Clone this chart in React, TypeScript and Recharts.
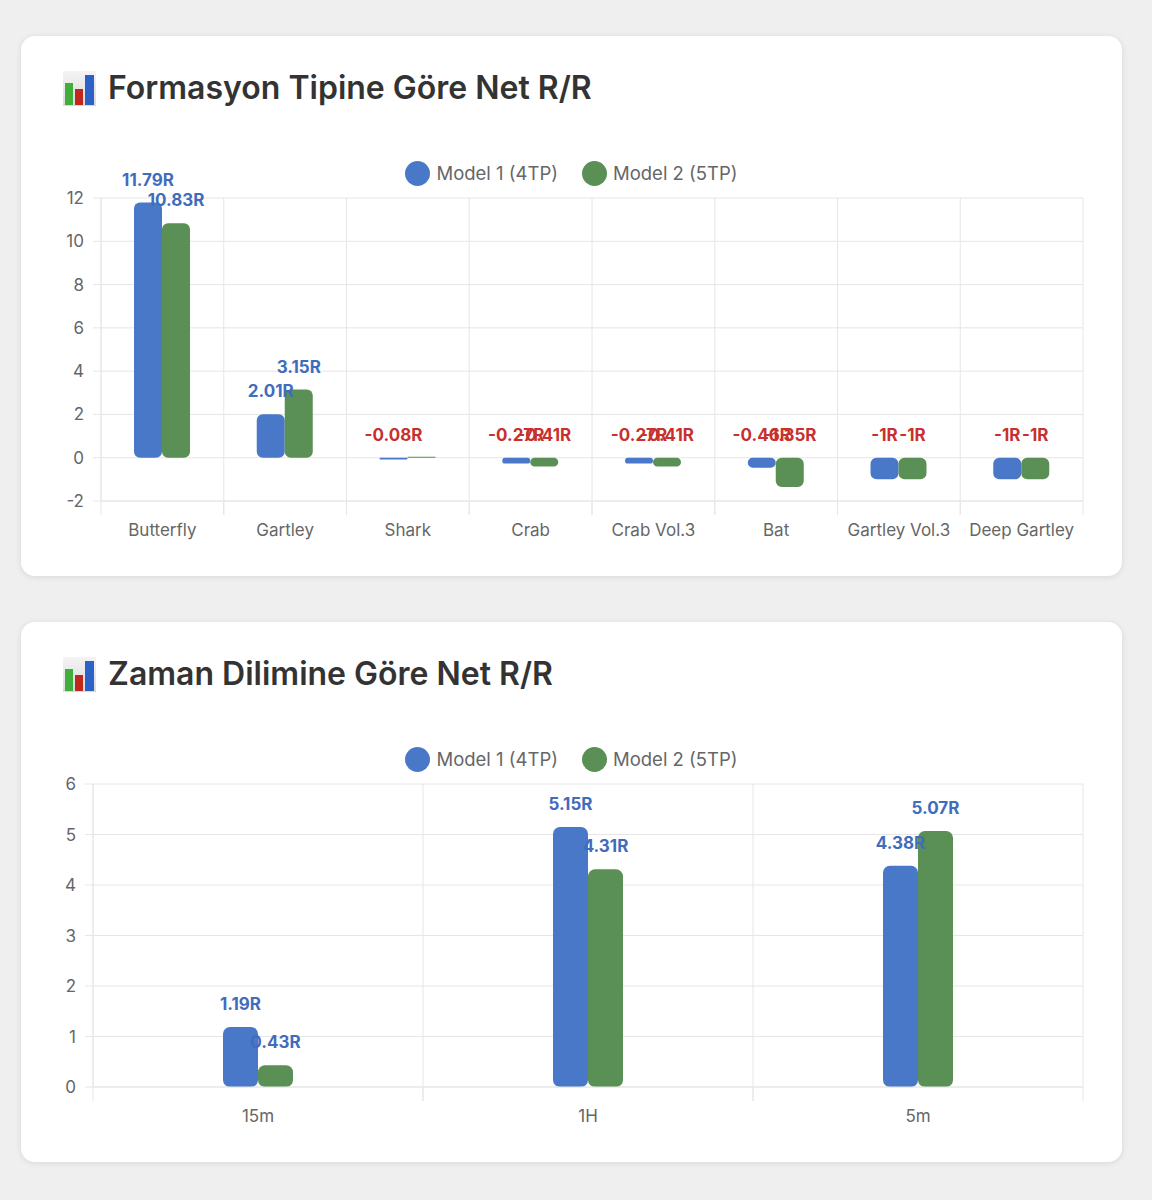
import { Bar, BarChart, CartesianGrid, LabelList, Legend, XAxis, YAxis } from "recharts";

// --- data ---
const patternNames = ["Butterfly", "Gartley", "Shark", "Crab", "Crab Vol.3", "Bat", "Gartley Vol.3", "Deep Gartley"];
const patternModel1 = [11.79, 2.01, -0.08, -0.27, -0.27, -0.46, -1, -1];
const patternModel2 = [10.83, 3.15, 0, -0.41, -0.41, -1.35, -1, -1];
const patternTicks = [-2, 0, 2, 4, 6, 8, 10, 12];

const timeframeNames = ["15m", "1H", "5m"];
const timeframeModel1 = [1.19, 5.15, 4.38];
const timeframeModel2 = [0.43, 4.31, 5.07];
const timeframeTicks = [0, 1, 2, 3, 4, 5, 6];

const seriesNames = ["Model 1 (4TP)", "Model 2 (5TP)"];

const BLUE = "#4a78c9";
const GREEN = "#5a8f55";
const LABEL_BLUE = "#3f6cbd";
const LABEL_RED = "#c8302e";
const GRID = "#e6e6e6";
const TEXT = "#666";
const FONT = "Inter, 'Noto Sans', sans-serif";

const CHART_W = 1101;
const CHART_H = 420;
const MARGIN_RIGHT = 39;

const ChartIcon = () => (
  <svg width={33} height={35} viewBox="0 0 33 35">
    <defs>
      <linearGradient id="iconBg" x1="0" y1="0" x2="0" y2="1">
        <stop offset="0" stopColor="#f4f4f4" />
        <stop offset="1" stopColor="#d9d9d9" />
      </linearGradient>
    </defs>
    <rect x={0} y={0} width={33} height={35} fill="url(#iconBg)" />
    <rect x={2} y={12} width={8} height={22} fill="#3fae3a" />
    <rect x={12} y={18} width={8} height={16} fill="#c0281e" />
    <rect x={22} y={4} width={9} height={30} fill="#2c62c8" />
  </svg>
);

const renderLabel = (props: any) => {
  const { x, y, width, height, value } = props;
  if (!value) return null;
  const top = Math.min(Number(y), Number(y) + Number(height));
  return (
    <text
      x={Number(x) + Number(width) / 2}
      y={top - 17}
      textAnchor="middle"
      fill={value < 0 ? LABEL_RED : LABEL_BLUE}
      fontSize={17}
      fontWeight={700}
      fontFamily={FONT}
    >
      {`${value}R`}
    </text>
  );
};

const LegendContent = (props: any) => (
  <div style={{ height: 40, display: "flex", justifyContent: "center", gap: 24, fontFamily: FONT }}>
    {(props.payload || []).map((item: any) => (
      <div key={item.value} style={{ display: "flex", alignItems: "center", height: 30 }}>
        <span style={{ width: 25, height: 25, borderRadius: "50%", background: item.color, display: "inline-block" }} />
        <span style={{ marginLeft: 6, fontSize: 18.5, color: TEXT }}>{item.value}</span>
      </div>
    ))}
  </div>
);

const makeXTick = (band: number) => (props: any) => {
  const { x, y, payload } = props;
  return (
    <g>
      <line x1={x - band / 2} x2={x - band / 2} y1={y} y2={y + 14} stroke={GRID} />
      <line x1={x + band / 2} x2={x + band / 2} y1={y} y2={y + 14} stroke={GRID} />
      <text x={x} y={y + 29} textAnchor="middle" dominantBaseline="central" fill={TEXT} fontSize={17} fontFamily={FONT}>
        {payload.value}
      </text>
    </g>
  );
};

type CardProps = {
  title: string;
  top: number;
  names: string[];
  model1: number[];
  model2: number[];
  ticks: number[];
  yWidth: number;
  barSize: number;
  radius: number;
};

const RRCard = ({ title, top, names, model1, model2, ticks, yWidth, barSize, radius }: CardProps) => {
  const data = names.map((name, i) => ({ name, m1: model1[i], m2: model2[i] }));
  const n = names.length;
  const band = (CHART_W - yWidth - MARGIN_RIGHT) / n;
  return (
    <div
      style={{
        position: "absolute",
        left: 21,
        top,
        width: CHART_W,
        height: 540,
        background: "#fff",
        borderRadius: 14,
        boxShadow: "0 1px 6px rgba(0,0,0,0.10)",
      }}
    >
      <div style={{ position: "absolute", left: 42, top: 35 }}>
        <ChartIcon />
      </div>
      <div
        style={{
          position: "absolute",
          left: 87,
          top: 32,
          height: 40,
          lineHeight: "40px",
          fontSize: 32,
          fontWeight: 600,
          color: "#333",
          fontFamily: FONT,
          whiteSpace: "nowrap",
        }}
      >
        {title}
      </div>
      <div style={{ position: "absolute", left: 0, top: 110 }}>
        <BarChart
          width={CHART_W}
          height={CHART_H}
          data={data}
          margin={{ top: 12, right: MARGIN_RIGHT, left: 0, bottom: 15 }}
          barGap={0}
        >
          <CartesianGrid
            stroke={GRID}
            verticalCoordinatesGenerator={(p: any) => {
              const left = p.offset?.left ?? yWidth;
              const width = p.offset?.width ?? band * n;
              return Array.from({ length: n + 1 }, (_, i) => left + (width * i) / n);
            }}
          />
          <Legend verticalAlign="top" content={LegendContent} wrapperStyle={{ top: 12, left: 0, width: CHART_W }} />
          <XAxis
            dataKey="name"
            height={50}
            tickSize={0}
            tickMargin={0}
            axisLine={{ stroke: GRID }}
            tickLine={false}
            tick={makeXTick(band)}
            interval={0}
          />
          <YAxis
            width={yWidth}
            domain={[ticks[0], ticks[ticks.length - 1]]}
            ticks={ticks}
            interval={0}
            tickSize={8}
            tickMargin={9}
            tickLine={{ stroke: GRID }}
            axisLine={{ stroke: GRID }}
            tick={{ fill: TEXT, fontSize: 17, fontFamily: FONT }}
          />
          <Bar dataKey="m1" name={seriesNames[0]} fill={BLUE} barSize={barSize} radius={radius} isAnimationActive={false}>
            <LabelList dataKey="m1" content={renderLabel} />
          </Bar>
          <Bar
            dataKey="m2"
            name={seriesNames[1]}
            fill={GREEN}
            barSize={barSize}
            radius={radius}
            minPointSize={1}
            isAnimationActive={false}
          >
            <LabelList dataKey="m2" content={renderLabel} />
          </Bar>
        </BarChart>
      </div>
    </div>
  );
};

export default function App() {
  return (
    <div style={{ position: "relative", width: 1152, height: 1200, background: "#efefef", overflow: "hidden" }}>
      <style>{"body{margin:0;background:#efefef}"}</style>
      <RRCard
        title="Formasyon Tipine Göre Net R/R"
        top={36}
        names={patternNames}
        model1={patternModel1}
        model2={patternModel2}
        ticks={patternTicks}
        yWidth={80}
        barSize={28}
        radius={6}
      />
      <RRCard
        title="Zaman Dilimine Göre Net R/R"
        top={622}
        names={timeframeNames}
        model1={timeframeModel1}
        model2={timeframeModel2}
        ticks={timeframeTicks}
        yWidth={72}
        barSize={35}
        radius={7}
      />
    </div>
  );
}
